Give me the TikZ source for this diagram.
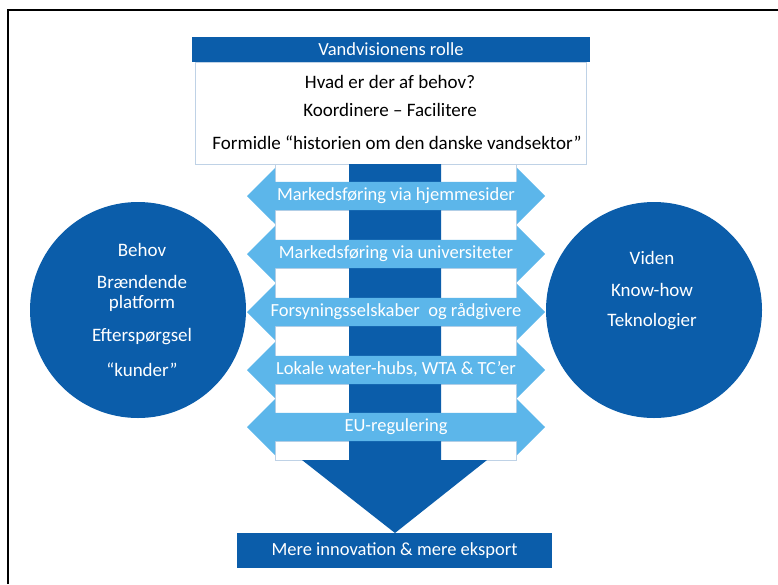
\documentclass[tikz,border=0pt]{standalone}
\usepackage{fontspec}
\setmainfont{Carlito}
\usepackage{tikz}
\usetikzlibrary{positioning,shapes.arrows}

\definecolor{vvmork}{HTML}{0B5DAA}
\definecolor{vvlys}{HTML}{5CB6EA}
\definecolor{vvkant}{HTML}{BFD2E6}

\begin{document}
\begin{tikzpicture}[x=1pt,y=-1pt,
  morkboks/.style={fill=vvmork,text=white,inner sep=0pt,font=\fontsize{18.5}{22}\selectfont},
  hvidboks/.style={draw=vvkant,fill=white,line width=0.9pt},
  linje/.style={text=black,inner sep=0pt,font=\fontsize{19}{22}\selectfont},
  cirkel/.style={circle,fill=vvmork,minimum size=216pt,inner sep=0pt},
  cirkeltekst/.style={text=white,inner sep=0pt,font=\fontsize{19}{22}\selectfont},
  tovejs/.style={double arrow,fill=vvlys,text=white,double arrow head extend=14pt,
    minimum height=298pt,inner xsep=0pt,inner ysep=7pt,text height=11pt,text depth=3pt,
    font=\fontsize{18.5}{22}\selectfont}]

\useasboundingbox (0,0) rectangle (778,584);
\draw[line width=1.2pt] (8,584) -- (8,10) -- (778,10);

\node[cirkel] (venstre) at (138,310) {};
\node[cirkel] (hoejre) at (654,310) {};

\node[hvidboks,minimum width=391pt,minimum height=102pt] (rolleboks) at (390.5,113) {};
\node[morkboks,minimum width=398pt,minimum height=25pt] (rolle) at (391,49.5) {Vandvisionens rolle};
\node[linje] (behov) at (390,82) {Hvad er der af behov?};
\node[linje] (koordinere) at (390,110) {Koordinere -- Facilitere};
\node[linje] (formidle) at (397,143) {Formidle “historien om den danske vandsektor”};

\draw[hvidboks] (275,164) rectangle (516,182);
\draw[hvidboks] (275,210) rectangle (516,240);
\draw[hvidboks] (275,268) rectangle (516,298);
\draw[hvidboks] (275,326) rectangle (516,356);
\draw[hvidboks] (275,384) rectangle (516,413);
\draw[hvidboks] (275,441) rectangle (516,460);

\fill[vvmork] (349,164) -- (441,164) -- (441,460) -- (487,460) -- (395,533)
  -- (302,460) -- (349,460) -- cycle;

\node[tovejs] (hjemmesider) at (396,196) {Markedsføring via hjemmesider};
\node[tovejs] (universiteter) at (396,254) {Markedsføring via universiteter};
\node[tovejs] (forsyning) at (396,312) {Forsyningsselskaber\ \ og rådgivere};
\node[tovejs] (hubs) at (396,370) {Lokale water-hubs, WTA \& TC'er};
\node[tovejs] (eu) at (396,427) {EU-regulering};

\node[morkboks,minimum width=315pt,minimum height=35pt] (resultat) at (394.5,550.5) {Mere innovation \& mere eksport};

\node[cirkeltekst] (behov2) at (142,250) {Behov};
\node[cirkeltekst] (braendende) at (142,282) {Brændende};
\node[cirkeltekst] (platform) at (142,303) {platform};
\node[cirkeltekst] (efterspoergsel) at (142,337) {Efterspørgsel};
\node[cirkeltekst] (kunder) at (142,370) {“kunder”};

\node[cirkeltekst] (viden) at (652,258) {Viden};
\node[cirkeltekst] (knowhow) at (652,290) {Know-how};
\node[cirkeltekst] (teknologier) at (652,322) {Teknologier};
\end{tikzpicture}
\end{document}
